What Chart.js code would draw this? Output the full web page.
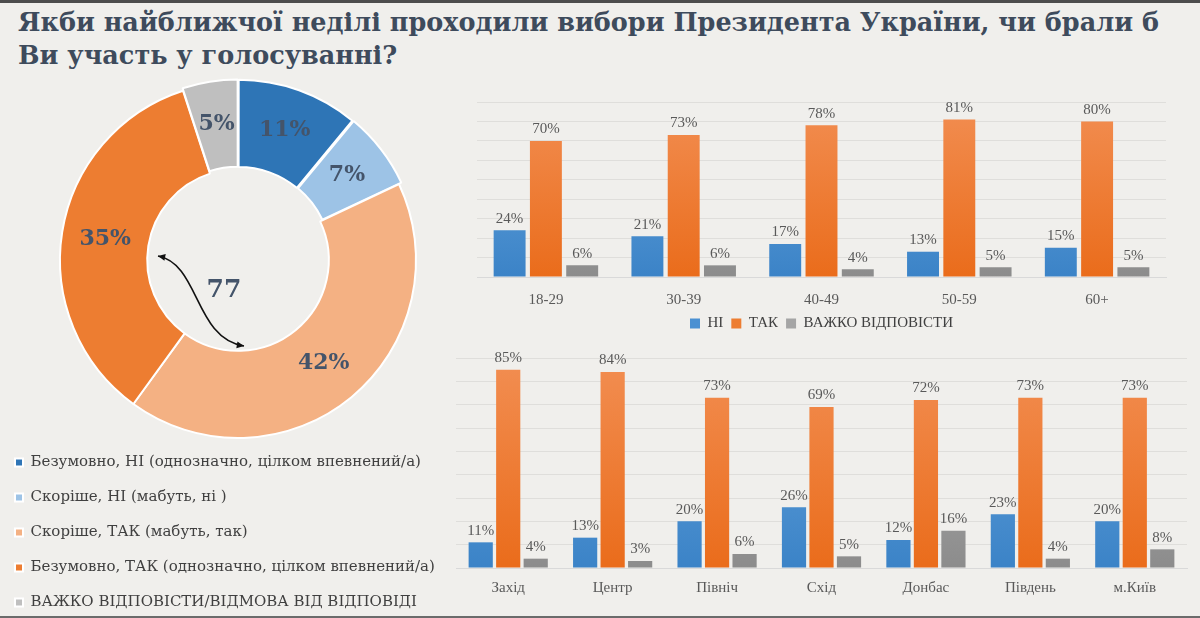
<!DOCTYPE html>
<html>
<head>
    <meta charset="utf-8">
    <title>Участь у виборах Президента</title>
    <script src="https://cdn.jsdelivr.net/npm/chart.js@4.4.0/dist/chart.umd.min.js"></script>
    <style>
        html, body { margin: 0; padding: 0; }
        body {
            width: 1200px;
            height: 618px;
            overflow: hidden;
            position: relative;
            background: #f0efec;
            font-family: "DejaVu Serif", serif;
            box-sizing: border-box;
            border-top: 3px solid #4d4d4d;
            border-bottom: 2px solid #6b6b6b;
        }
        #title {
            position: absolute;
            left: 18px;
            top: 3px;
            font-size: 25.5px;
            font-weight: bold;
            line-height: 33px;
            color: #3e4b5c;
            white-space: nowrap;
        }
        .box { position: absolute; }
        #pieBox { left: -5px; top: 67px; width: 486px; height: 550px; }
        #ageBox { left: 460px; top: 83px; width: 725px; height: 255px; }
        #regionBox { left: 445px; top: 337px; width: 750px; height: 258px; }
    </style>
</head>
<body>
    <div id="title">Якби найближчої неділі проходили вибори Президента України, чи брали б<br>Ви участь у голосуванні?</div>
    <div class="box" id="pieBox"><canvas id="pieChart"></canvas></div>
    <div class="box" id="ageBox"><canvas id="ageChart"></canvas></div>
    <div class="box" id="regionBox"><canvas id="regionChart"></canvas></div>

    <script>
        // doughnut: overall answer
        const pieLabels = [
            'Безумовно, НІ (однозначно, цілком впевнений/а)',
            'Скоріше, НІ (мабуть, ні )',
            'Скоріше, ТАК (мабуть, так)',
            'Безумовно, ТАК (однозначно, цілком впевнений/а)',
            'ВАЖКО ВІДПОВІСТИ/ВІДМОВА ВІД ВІДПОВІДІ'
        ];
        const pieValues = [11, 7, 42, 35, 5];
        const pieColors = ['#2e75b6', '#9dc3e6', '#f4b183', '#ed7d31', '#bfbfbf'];
        const pieCenterText = '77';

        // bars: by age and by region
        const seriesNames = ['НІ', 'ТАК', 'ВАЖКО ВІДПОВІСТИ'];
        const ageGroups = ['18-29', '30-39', '40-49', '50-59', '60+'];
        const ageNo = [24, 21, 17, 13, 15];
        const ageYes = [70, 73, 78, 81, 80];
        const ageHard = [6, 6, 4, 5, 5];

        const regions = ['Захід', 'Центр', 'Північ', 'Схід', 'Донбас', 'Південь', 'м.Київ'];
        const regionNo = [11, 13, 20, 26, 12, 23, 20];
        const regionYes = [85, 84, 73, 69, 72, 73, 73];
        const regionHard = [4, 3, 6, 5, 16, 4, 8];

        const barTop = ['#6aa7de', '#f28e52', '#b4b4b4'];
        const barBottom = ['#3b83c7', '#ea6c1b', '#8c8c8c'];
        const barLegend = ['#4a90d2', '#ed7d31', '#a5a5a5'];

        const labelFont = '"Liberation Serif", serif';

        function gradientFor(i) {
            return (ctx) => {
                const area = ctx.chart.chartArea;
                if (!area) return barLegend[i];
                const g = ctx.chart.ctx.createLinearGradient(0, area.top, 0, area.bottom);
                g.addColorStop(0, barTop[i]);
                g.addColorStop(1, barBottom[i]);
                return g;
            };
        }

        // value labels above bars
        const barValueLabels = {
            id: 'barValueLabels',
            afterDatasetsDraw(chart) {
                const c = chart.ctx;
                c.save();
                c.font = '15px ' + labelFont;
                c.fillStyle = '#595959';
                c.textAlign = 'center';
                c.textBaseline = 'bottom';
                chart.data.datasets.forEach((ds, di) => {
                    chart.getDatasetMeta(di).data.forEach((el, i) => {
                        c.fillText(ds.data[i] + '%', el.x, el.y - 4);
                    });
                });
                c.restore();
            }
        };

        // percent labels on slices, number in the centre and the arrow
        const pieDecor = {
            id: 'pieDecor',
            afterDatasetsDraw(chart) {
                const c = chart.ctx;
                const meta = chart.getDatasetMeta(0);
                c.save();
                c.font = 'bold 22px "DejaVu Serif", serif';
                c.fillStyle = '#44546a';
                c.textAlign = 'center';
                c.textBaseline = 'middle';
                meta.data.forEach((arc, i) => {
                    const p = arc.tooltipPosition();
                    c.fillText(chart.data.datasets[0].data[i] + '%', p.x, p.y);
                });
                const cx = meta.data[2].x, cy = meta.data[2].y;
                c.font = 'bold 25px "DejaVu Serif", serif';
                c.fillText(pieCenterText, cx - 14, cy + 30);

                // curved double arrow
                const p0 = [cx - 80, cy - 4], p3 = [cx + 6, cy + 86];
                const c1 = [cx - 38, cy + 4], c2 = [cx - 44, cy + 78];
                c.strokeStyle = '#111';
                c.fillStyle = '#111';
                c.lineWidth = 1.6;
                c.beginPath();
                c.moveTo(p0[0], p0[1]);
                c.bezierCurveTo(c1[0], c1[1], c2[0], c2[1], p3[0], p3[1]);
                c.stroke();
                const head = (tip, from) => {
                    const a = Math.atan2(tip[1] - from[1], tip[0] - from[0]);
                    c.beginPath();
                    c.moveTo(tip[0], tip[1]);
                    c.lineTo(tip[0] - 8 * Math.cos(a - 0.45), tip[1] - 8 * Math.sin(a - 0.45));
                    c.lineTo(tip[0] - 8 * Math.cos(a + 0.45), tip[1] - 8 * Math.sin(a + 0.45));
                    c.closePath();
                    c.fill();
                };
                head(p0, c1);
                head(p3, c2);
                c.restore();
            }
        };

        try {
            new Chart(document.getElementById('pieChart'), {
                type: 'doughnut',
                data: {
                    labels: pieLabels,
                    datasets: [{
                        data: pieValues,
                        backgroundColor: pieColors,
                        borderColor: '#ffffff',
                        borderWidth: 2,
                        offset: [7, 7, 0, 0, 6],
                        radius: 178,
                        clip: false
                    }]
                },
                options: {
                    responsive: true,
                    maintainAspectRatio: false,
                    animation: false,
                    cutout: '51%',
                    layout: { padding: { left: 0, right: 0, top: 15, bottom: 0 } },
                    plugins: {
                        legend: {
                            position: 'bottom',
                            align: 'start',
                            labels: {
                                boxWidth: 8,
                                boxHeight: 8,
                                padding: 20,
                                color: '#404040',
                                font: { family: '"DejaVu Serif", serif', size: 15 }
                            }
                        },
                        tooltip: { enabled: false }
                    }
                },
                plugins: [pieDecor]
            });

            const barOptions = (padding, tickPad, axisHeight, showLegend) => ({
                responsive: true,
                maintainAspectRatio: false,
                animation: false,
                layout: { padding: padding },
                scales: {
                    x: {
                        grid: { display: false, drawTicks: false },
                        border: { display: true, color: '#d9d9d9' },
                        ticks: { color: '#595959', font: { family: labelFont, size: 15 }, padding: tickPad },
                        afterFit: (scale) => { scale.height = axisHeight; }
                    },
                    y: {
                        min: 0,
                        max: 90,
                        ticks: { display: false, stepSize: 10 },
                        border: { display: false },
                        grid: { color: 'rgba(0,0,0,0.07)', drawTicks: false }
                    }
                },
                plugins: {
                    legend: {
                        display: showLegend,
                        position: 'bottom',
                        labels: {
                            boxWidth: 10,
                            boxHeight: 10,
                            padding: 8,
                            color: '#404040',
                            font: { family: labelFont, size: 15 },
                            // legend squares in flat colours
                            generateLabels: (chart) => chart.data.datasets.map((ds, i) => ({
                                text: ds.label, fillStyle: barLegend[i], strokeStyle: barLegend[i],
                                lineWidth: 0, datasetIndex: i, fontColor: '#404040'
                            }))
                        }
                    },
                    tooltip: { enabled: false }
                }
            });

            const barSets = (lists) => lists.map((vals, i) => ({
                label: seriesNames[i],
                data: vals,
                backgroundColor: gradientFor(i),
                categoryPercentage: 0.79,
                barPercentage: 0.88
            }));

            new Chart(document.getElementById('ageChart'), {
                type: 'bar',
                data: { labels: ageGroups, datasets: barSets([ageNo, ageYes, ageHard]) },
                options: barOptions({ left: 17, right: 19, top: 16, bottom: 0 }, 14, 31, true),
                plugins: [barValueLabels]
            });

            new Chart(document.getElementById('regionChart'), {
                type: 'bar',
                data: { labels: regions, datasets: barSets([regionNo, regionYes, regionHard]) },
                options: barOptions({ left: 11, right: 8, top: 18, bottom: 0 }, 11, 30, false),
                plugins: [barValueLabels]
            });
        } catch (error) {
            console.error('Error rendering charts:', error);
        }
    </script>
</body>
</html>
